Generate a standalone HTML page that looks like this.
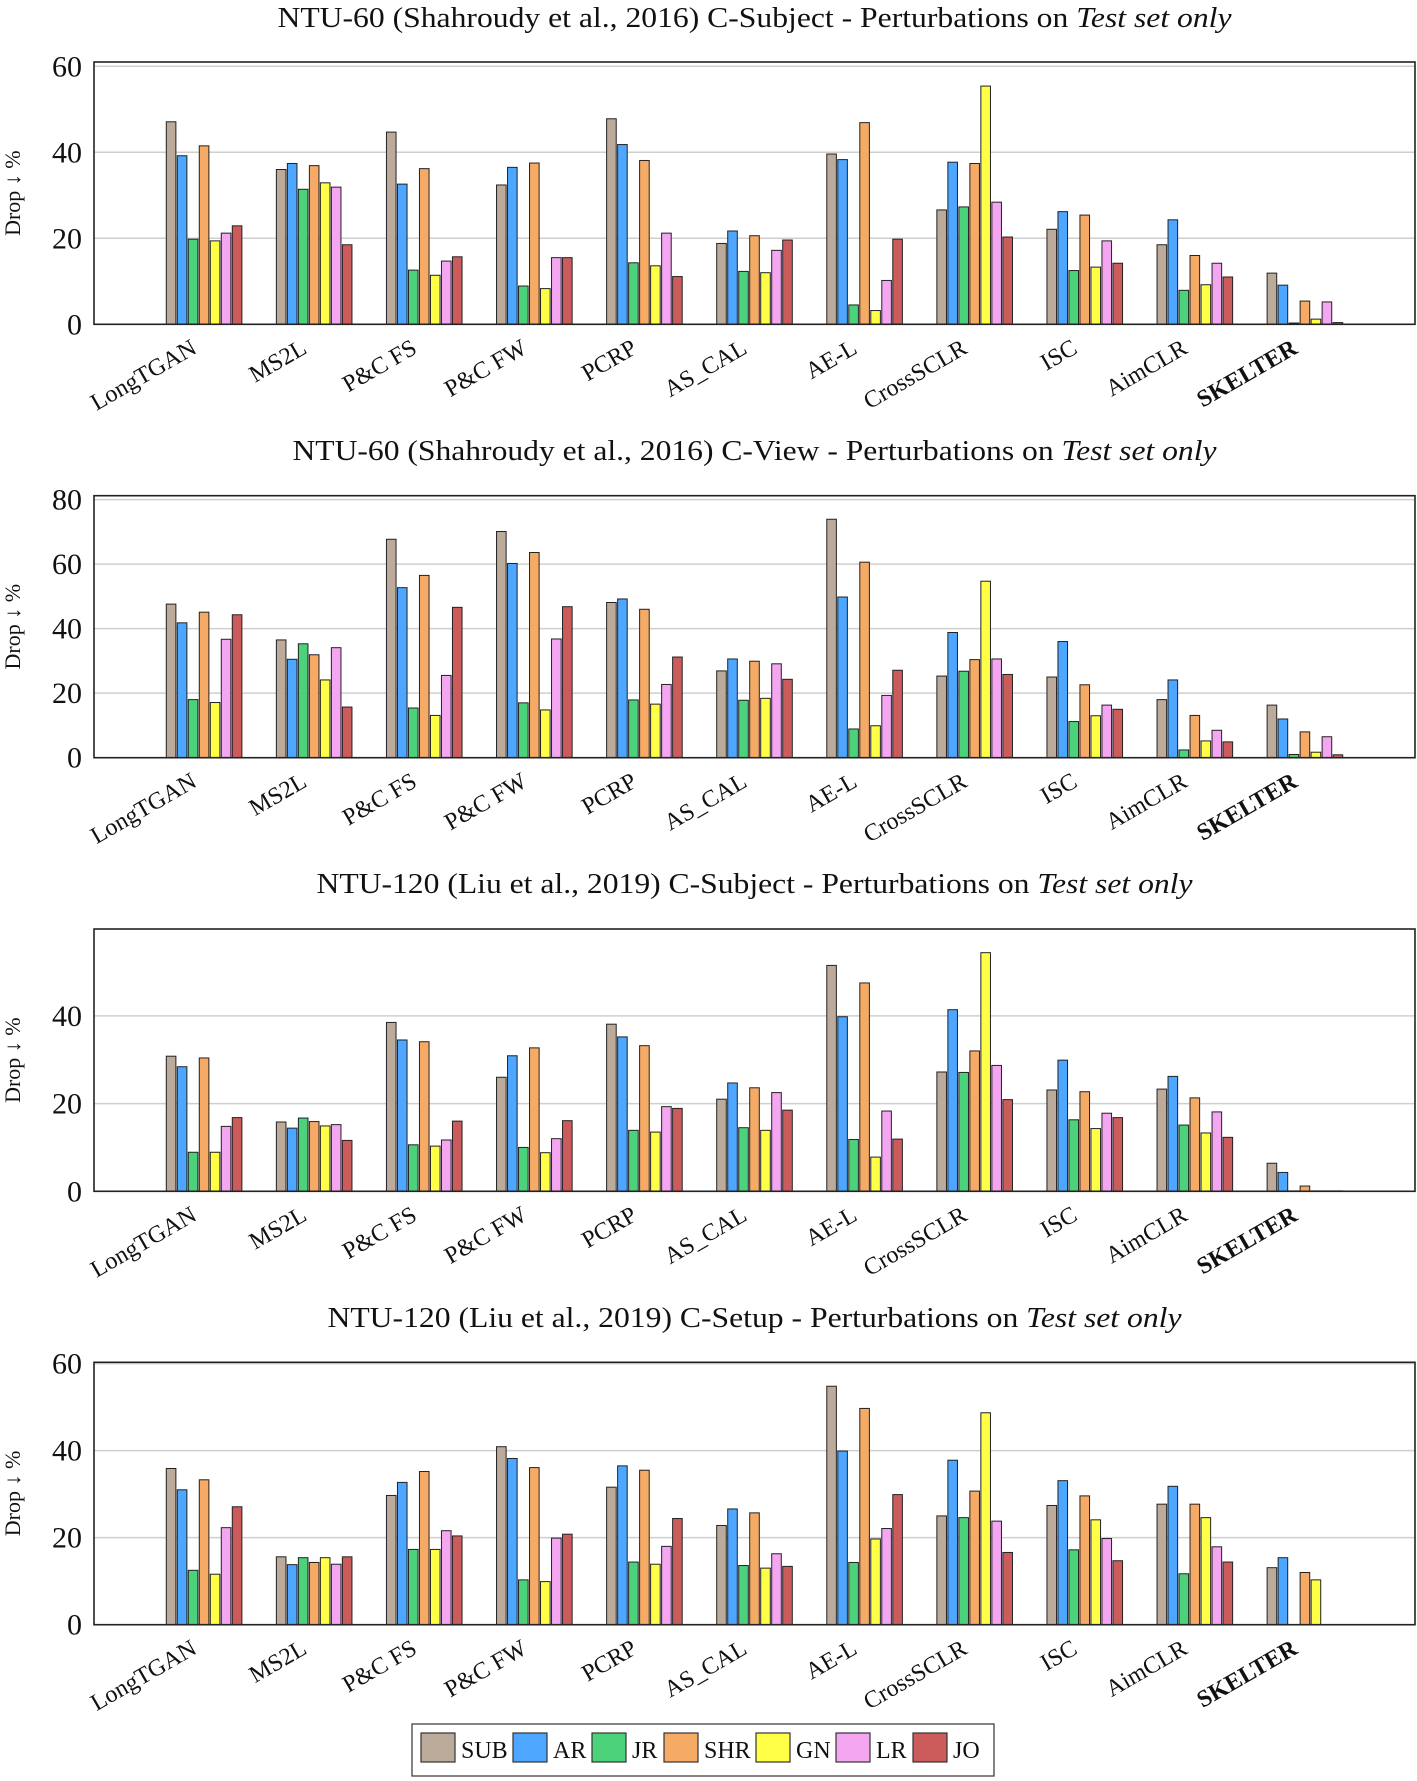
<!DOCTYPE html>
<html><head><meta charset="utf-8"><style>
html,body{margin:0;padding:0;background:#fff}
svg{display:block}
text{font-family:"Liberation Serif",serif;fill:#111}
</style></head><body>
<svg id="fig" xmlns="http://www.w3.org/2000/svg" width="1417" height="1781" viewBox="0 0 1417 1781"></svg>
<script>
const categories = ["LongTGAN","MS2L","P&C FS","P&C FW","PCRP","AS_CAL","AE-L","CrossSCLR","ISC","AimCLR","SKELTER"];
const seriesNames = ["SUB","AR","JR","SHR","GN","LR","JO"];
const seriesColors = ["#bcaa9b","#4da6ff","#4cd27a","#f5aa66","#ffff47","#f4a6f0","#cc5c5c"];

// NTU-60 C-Subject (rows = series, columns = categories)
const c1SUB = [47.1,36.0,44.7,32.4,47.8,18.8,39.6,26.6,22.1,18.5,11.9];
const c1AR  = [39.2,37.4,32.6,36.5,41.8,21.7,38.3,37.7,26.2,24.3,9.1];
const c1JR  = [19.8,31.4,12.6,8.9,14.3,12.3,4.5,27.3,12.5,7.9,0.3];
const c1SHR = [41.5,36.9,36.2,37.5,38.1,20.6,46.9,37.4,25.4,16.0,5.4];
const c1GN  = [19.4,32.9,11.4,8.3,13.6,12.0,3.2,55.4,13.3,9.2,1.2];
const c1LR  = [21.2,31.9,14.7,15.5,21.2,17.2,10.2,28.4,19.4,14.2,5.2];
const c1JO  = [22.9,18.5,15.7,15.5,11.1,19.6,19.8,20.3,14.2,11.0,0.4];
// NTU-60 C-View
const c2SUB = [47.6,36.5,67.7,70.1,48.1,26.9,73.9,25.3,25.0,18.0,16.3];
const c2AR  = [41.8,30.5,52.7,60.2,49.2,30.6,49.8,38.8,36.0,24.1,12.0];
const c2JR  = [18.0,35.3,15.4,17.0,17.9,17.8,8.9,26.8,11.2,2.4,1.0];
const c2SHR = [45.1,31.9,56.5,63.6,46.0,29.9,60.6,30.4,22.6,13.1,8.0];
const c2GN  = [17.1,24.1,13.1,14.8,16.6,18.4,9.9,54.7,13.0,5.2,1.7];
const c2LR  = [36.7,34.1,25.5,36.8,22.7,29.1,19.3,30.6,16.3,8.5,6.5];
const c2JO  = [44.3,15.7,46.6,46.8,31.2,24.3,27.1,25.8,15.0,4.9,0.9];
// NTU-120 C-Subject
const c3SUB = [30.8,15.8,38.5,26.0,38.1,21.0,51.5,27.2,23.1,23.3,6.4];
const c3AR  = [28.4,14.4,34.5,30.9,35.2,24.7,39.8,41.4,29.9,26.2,4.3];
const c3JR  = [8.9,16.7,10.6,10.0,13.9,14.5,11.8,27.1,16.3,15.1,0.1];
const c3SHR = [30.4,15.9,34.1,32.7,33.2,23.6,47.5,32.0,22.7,21.3,1.2];
const c3GN  = [8.9,14.9,10.3,8.8,13.5,13.9,7.8,54.4,14.3,13.3,0.1];
const c3LR  = [14.8,15.2,11.7,12.0,19.3,22.5,18.3,28.7,17.8,18.1,0.1];
const c3JO  = [16.8,11.6,16.0,16.1,18.9,18.5,11.9,20.9,16.8,12.3,0.1];
// NTU-120 C-Setup
const c4SUB = [35.9,15.6,29.7,40.9,31.6,22.8,54.8,25.0,27.4,27.7,13.1];
const c4AR  = [31.0,13.8,32.7,38.2,36.5,26.6,39.9,37.8,33.1,31.8,15.4];
const c4JR  = [12.5,15.4,17.3,10.3,14.4,13.6,14.3,24.6,17.2,11.7,0];
const c4SHR = [33.3,14.3,35.2,36.1,35.5,25.7,49.7,30.7,29.6,27.7,12.0];
const c4GN  = [11.6,15.4,17.3,9.9,13.9,13.0,19.7,48.7,24.1,24.6,10.3];
const c4LR  = [22.3,13.9,21.6,19.9,18.0,16.3,22.1,23.8,19.8,17.9,0];
const c4JO  = [27.1,15.6,20.4,20.8,24.4,13.4,29.9,16.6,14.7,14.4,0];

const c1Ticks = [0,20,40,60];
const c2Ticks = [0,20,40,60,80];
const c3Ticks = [0,20,40];
const c4Ticks = [0,20,40,60];

const chartTitles = [
  ["NTU-60 (Shahroudy et al., 2016) C-Subject - Perturbations on ","Test set only"],
  ["NTU-60 (Shahroudy et al., 2016) C-View - Perturbations on ","Test set only"],
  ["NTU-120 (Liu et al., 2019) C-Subject - Perturbations on ","Test set only"],
  ["NTU-120 (Liu et al., 2019) C-Setup - Perturbations on ","Test set only"]
];

const NS = "http://www.w3.org/2000/svg";
const svg = document.getElementById("fig");
function mk(tag, attrs, parent){
  const e = document.createElementNS(NS, tag);
  for (const k in attrs) e.setAttribute(k, attrs[k]);
  (parent||svg).appendChild(e);
  return e;
}

const layouts = [
  {top:62, zero:324.3, ymax:61.0, titleY:27, titleW:954, series:[c1SUB,c1AR,c1JR,c1SHR,c1GN,c1LR,c1JO], ticks:c1Ticks},
  {top:495.7, zero:757.7, ymax:81.2, titleY:460, titleW:924, series:[c2SUB,c2AR,c2JR,c2SHR,c2GN,c2LR,c2JO], ticks:c2Ticks},
  {top:929, zero:1191.3, ymax:59.8, titleY:893, titleW:876, series:[c3SUB,c3AR,c3JR,c3SHR,c3GN,c3LR,c3JO], ticks:c3Ticks},
  {top:1362.3, zero:1624.7, ymax:60.3, titleY:1327, titleW:854, series:[c4SUB,c4AR,c4JR,c4SHR,c4GN,c4LR,c4JO], ticks:c4Ticks}
];
const plotL = 94, plotR = 1415;
const groupStep = (plotR - plotL) / 12;
function xScale(i){ return plotL + (i + 1) * groupStep; }
const barStep = 11, barW = 9.6;

layouts.forEach((L, ci) => {
  const g = mk("g", {});
  
  
  const yScale = v => L.zero - (v / L.ymax) * (L.zero - L.top);

  const t = mk("text", {x:(plotL+plotR)/2, y:L.titleY, "text-anchor":"middle", "font-size":29, textLength:L.titleW, lengthAdjust:"spacingAndGlyphs"}, g);
  
  
  t.appendChild(document.createTextNode(chartTitles[ci][0]));
  const ts = mk("tspan", {"font-style":"italic"}, t);
  ts.textContent = chartTitles[ci][1];

  L.ticks.forEach(v => {
    const y = yScale(v);
    if (v > 0) {
      const gl = mk("line", {x1:plotL, x2:plotR, y1:y, y2:y, stroke:"#cfcfcf", "stroke-width":1.5}, g);
      
      
    }
    const tl = mk("text", {x:82, y:y+10, "text-anchor":"end", "font-size":30}, g);
    
    
    tl.textContent = String(v);
  });

  const cy = (L.top + L.zero) / 2;
  const yt = mk("text", {x:0, y:0, "text-anchor":"middle", "font-size":22, transform:`translate(20,${cy}) rotate(-90)`}, g);
  
  
  yt.textContent = "Drop \u2193 %";

  categories.forEach((cat, i) => {
    const cx = xScale(i);
    L.series.forEach((arr, j) => {
      const v = arr[i];
      const yTop = yScale(v);
      const r = mk("rect", {x: cx + (j - 3) * barStep - barW/2, y: yTop, width: barW, height: Math.max(0, L.zero - yTop), fill: seriesColors[j], stroke:"#222", "stroke-width":1}, g);
      
      
    });
    const xl = mk("text", {x:0, y:0, "text-anchor":"end", "font-size":24, transform:`translate(${cx-6},${L.zero+28}) rotate(-30)`}, g);
    if (cat === "SKELTER") xl.setAttribute("font-weight","bold");
    
    
    xl.textContent = cat;
  });

  const fr = mk("rect", {x:plotL, y:L.top, width:plotR-plotL, height:L.zero-L.top, fill:"none", stroke:"#222", "stroke-width":1.6}, g);
  
  
});

const lg = mk("g", {});


const lb = mk("rect", {x:412, y:1724, width:582, height:52, fill:"#fff", stroke:"#333", "stroke-width":1.2}, lg);


const swX = [421,513,592,664,756,836,913];
seriesNames.forEach((n, j) => {
  const s = mk("rect", {x:swX[j], y:1733, width:34, height:29, fill:seriesColors[j], stroke:"#333", "stroke-width":1.2}, lg);
  
  
  const tx = mk("text", {x:swX[j]+40, y:1758, "font-size":24}, lg);
  
  
  tx.textContent = n;
});
</script>
</body></html>
